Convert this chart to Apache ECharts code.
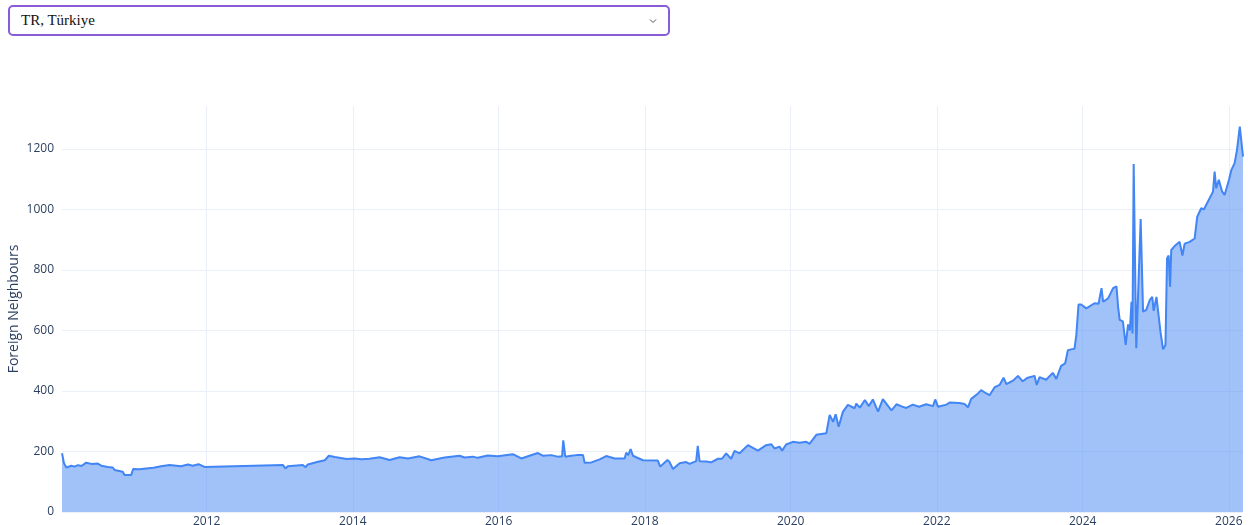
<!DOCTYPE html>
<html>
<head>
<meta charset="utf-8">
<script src="https://cdn.jsdelivr.net/npm/echarts@6/dist/echarts.min.js"></script>
<style>
  html, body { margin: 0; padding: 0; background: #fff; }
  #wrap { position: relative; width: 1248px; height: 525px; overflow: hidden; }
  #chart { position: absolute; left: 0; top: 0; width: 1248px; height: 525px; }
  #sel { position: absolute; left: 8px; top: 5px; width: 658px; height: 27px; border: 2px solid #8a5cd6; border-radius: 5px; background: #fff; box-sizing: content-box; z-index: 2; }
  #sel span { position: absolute; left: 11px; top: 5px; font-family: "Liberation Serif", "DejaVu Serif", serif; font-size: 15px; color: #111; }
  #sel svg { position: absolute; left: 639px; top: 11px; }
</style>
</head>
<body>
<div id="wrap">
  <div id="chart"></div>
  <div id="sel"><span>TR, Türkiye</span><svg width="8" height="6" viewBox="0 0 8 6"><polyline points="1,1.5 4,4.5 7,1.5" fill="none" stroke="#555" stroke-width="1"/></svg></div>
</div>
<script>
const countryLabel = 'TR, Türkiye';
const yAxisTitle = 'Foreign Neighbours';
const xTickLabels = ['2012', '2014', '2016', '2018', '2020', '2022', '2024', '2026'];
const yTickValues = [0, 200, 400, 600, 800, 1000, 1200];

const dates = [
  '2010-01-07','2010-01-17','2010-01-29','2010-02-23','2010-03-11','2010-03-27','2010-04-14','2010-05-08',
  '2010-06-03','2010-07-05','2010-07-23','2010-08-24','2010-09-18','2010-09-27','2010-11-07','2010-11-16',
  '2010-12-19','2010-12-29','2011-01-30','2011-03-04','2011-04-10','2011-05-18','2011-06-29','2011-08-26','2011-09-29',
  '2011-10-23','2011-11-21','2011-12-21',
  '2013-01-17','2013-01-29','2013-02-10','2013-04-26','2013-05-10','2013-05-21','2013-07-11','2013-08-14',
  '2013-09-03','2013-10-03','2013-12-01','2014-01-10','2014-02-13','2014-03-26',
  '2014-05-15','2014-07-04','2014-08-23','2014-10-04','2014-12-01','2015-01-29','2015-04-05','2015-06-19',
  '2015-07-14','2015-08-25','2015-09-18','2015-11-07','2015-12-27','2016-03-12','2016-04-23','2016-06-03',
  '2016-07-15','2016-08-09','2016-09-20','2016-10-22','2016-11-13','2016-11-19','2016-11-29','2016-12-29',
  '2017-01-24','2017-02-26','2017-03-06','2017-04-09','2017-05-20','2017-06-22','2017-08-03','2017-09-22',
  '2017-09-30','2017-10-10','2017-10-22','2017-11-03','2017-11-19','2017-12-23','2018-03-07','2018-03-19',
  '2018-04-24','2018-05-05','2018-05-22','2018-06-24','2018-07-27','2018-08-13','2018-09-15','2018-09-23',
  '2018-10-02','2018-11-06','2018-11-29','2019-01-02','2019-01-22','2019-02-12','2019-03-09','2019-03-26',
  '2019-04-20','2019-06-01','2019-07-21','2019-08-31','2019-09-26','2019-10-12','2019-11-06','2019-11-19',
  '2019-12-09','2020-01-12','2020-02-14','2020-03-19','2020-04-04','2020-05-08','2020-06-27','2020-07-14',
  '2020-07-31','2020-08-13','2020-08-28','2020-09-18','2020-10-13','2020-11-16','2020-11-24','2020-12-12',
  '2021-01-06','2021-01-26','2021-02-15','2021-03-13','2021-04-06','2021-05-19','2021-06-13','2021-07-09',
  '2021-08-01','2021-09-03','2021-10-04','2021-11-09','2021-12-13','2021-12-24','2022-01-07','2022-02-18',
  '2022-03-06','2022-04-25','2022-05-20','2022-06-06','2022-06-22','2022-07-26','2022-08-11','2022-08-29',
  '2022-09-22','2022-10-18','2022-11-11','2022-12-01','2022-12-15','2023-01-19','2023-02-11','2023-03-07',
  '2023-04-01','2023-05-05','2023-05-16','2023-05-30','2023-07-02','2023-08-04','2023-08-22','2023-09-15',
  '2023-10-05','2023-10-19','2023-11-21','2023-11-30','2023-12-11','2023-12-24','2024-01-19','2024-02-29',
  '2024-03-20','2024-04-04','2024-04-12','2024-05-07','2024-06-01','2024-06-18','2024-06-26','2024-07-04',
  '2024-07-20','2024-08-03','2024-08-15','2024-08-24','2024-09-01','2024-09-06','2024-09-12','2024-09-25',
  '2024-10-17','2024-10-29','2024-11-14','2024-12-01','2024-12-14','2024-12-21','2025-01-04','2025-01-24',
  '2025-02-06','2025-02-18','2025-02-26','2025-03-06','2025-03-13','2025-03-19','2025-04-05','2025-04-30',
  '2025-05-14','2025-05-25','2025-06-19','2025-07-14','2025-07-27','2025-08-16','2025-08-29','2025-09-27',
  '2025-10-14','2025-10-22','2025-10-30','2025-11-12','2025-11-28','2025-12-11','2026-01-02','2026-01-14',
  '2026-01-30','2026-02-11','2026-02-25','2026-03-03','2026-03-13'
];
const neighbours = [
  194,161,147,153,150,155,152,163,
  159,160,153,149,147,139,133,122,
  122,142,141,144,146,151,155,151,157,
  153,158,149,
  155,144,151,155,148,157,166,171,
  186,182,175,177,174,176,
  181,172,181,177,184,171,180,186,
  180,183,179,187,184,191,177,186,
  195,186,188,183,184,237,183,186,
  188,188,163,164,174,185,177,177,
  196,188,208,186,181,171,170,150,
  172,165,142,161,165,159,168,219,
  168,167,164,176,176,194,176,202,
  194,221,203,221,224,210,216,203,
  223,232,229,232,225,255,260,321,
  298,323,282,331,354,343,358,345,
  370,350,372,332,373,336,356,349,
  344,355,348,356,350,372,348,355,
  362,360,357,346,374,392,403,395,
  386,413,420,444,423,435,450,432,
  444,450,420,446,437,460,440,483,
  491,535,540,585,686,686,673,690,
  688,740,695,706,740,746,679,635,
  630,552,620,600,695,590,1150,541,
  968,662,668,700,711,665,711,596,
  538,552,839,848,745,866,879,893,
  848,887,893,904,976,1004,1000,1037,
  1059,1125,1070,1098,1060,1048,1098,1131,
  1153,1197,1274,1274,1175
];

document.querySelector('#sel span').textContent = countryLabel;

const seriesData = dates.map((d, i) => [d, neighbours[i]]);
const gridColor = '#ebf0f8';
const textColor = '#2a3f5f';
const fontFam = '"Open Sans", verdana, arial, sans-serif';

const chart = echarts.init(document.getElementById('chart'), null, { renderer: 'canvas' });
chart.setOption({
  animation: false,
  grid: { left: 62, right: 5, top: 106, bottom: 13, containLabel: false, outerBoundsMode: 'none' },
  xAxis: {
    type: 'time',
    min: 'dataMin',
    max: 'dataMax',
    axisLine: { show: false },
    axisTick: { show: false, customValues: xTickLabels },
    axisLabel: {
      customValues: xTickLabels,
      formatter: '{yyyy}',
      color: textColor, fontFamily: fontFam, fontSize: 12, margin: 4
    },
    splitLine: { show: true, lineStyle: { color: gridColor, width: 1 } }
  },
  yAxis: {
    type: 'value',
    min: 0,
    max: 1342,
    name: yAxisTitle,
    nameLocation: 'middle',
    nameGap: 41,
    nameMoveOverlap: false,
    nameTextStyle: { color: textColor, fontFamily: fontFam, fontSize: 14 },
    axisLine: { show: false },
    axisTick: { show: false, customValues: yTickValues },
    axisLabel: {
      customValues: yTickValues,
      formatter: (v) => String(v),
      color: textColor, fontFamily: fontFam, fontSize: 12, margin: 8
    },
    splitLine: { show: true, lineStyle: { color: gridColor, width: 1 } }
  },
  series: [{
    type: 'line',
    data: seriesData,
    showSymbol: false,
    symbol: 'none',
    lineStyle: { color: '#4285f4', width: 2 },
    itemStyle: { color: '#4285f4' },
    areaStyle: { color: '#4285f4', opacity: 0.5 }
  }]
});
</script>
</body>
</html>
